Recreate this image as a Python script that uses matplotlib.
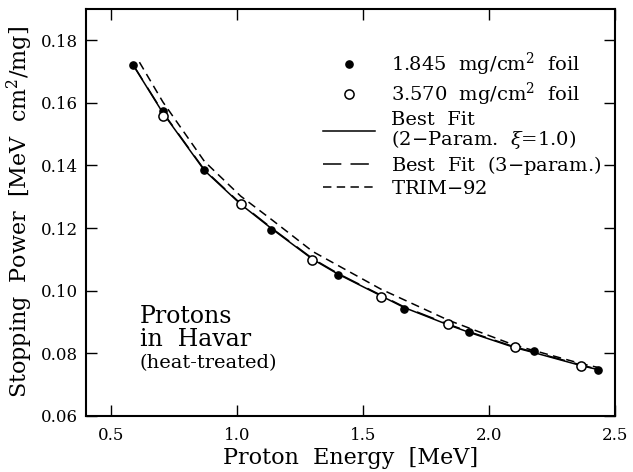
import matplotlib
matplotlib.use("Agg")
import matplotlib.pyplot as plt
from matplotlib.lines import Line2D

plt.rcParams['font.family'] = ['DejaVu Serif']
plt.rcParams['mathtext.fontset'] = 'dejavuserif'

# Data
e_thin = [0.586, 0.705, 0.867, 1.136, 1.400, 1.663, 1.920, 2.178, 2.431]
s_thin = [0.1722, 0.1575, 0.1384, 0.1194, 0.1051, 0.0940, 0.0867, 0.0806, 0.0746]

e_thick = [0.705, 1.014, 1.299, 1.572, 1.837, 2.102, 2.363]
s_thick = [0.1559, 0.1276, 0.1098, 0.0981, 0.0892, 0.0819, 0.0759]

e_fit2 = [0.586, 0.705, 0.870, 1.014, 1.140, 1.300, 1.400, 1.572, 1.663, 1.837, 1.920, 2.102, 2.178, 2.363, 2.431]
s_fit2 = [0.1722, 0.1568, 0.1384, 0.1276, 0.1196, 0.1100, 0.1053, 0.0983, 0.0946, 0.0891, 0.0867, 0.0818, 0.0802, 0.0761, 0.0748]

e_fit3 = [0.586, 0.705, 0.870, 1.014, 1.140, 1.300, 1.400, 1.572, 1.663, 1.837, 1.920, 2.102, 2.178, 2.363, 2.431]
s_fit3 = [0.1723, 0.1570, 0.1386, 0.1278, 0.1198, 0.1102, 0.1055, 0.0985, 0.0948, 0.0893, 0.0869, 0.0820, 0.0804, 0.0763, 0.0749]

e_trim = [0.612, 0.705, 0.870, 1.014, 1.140, 1.300, 1.570, 1.840, 2.100, 2.360, 2.430]
s_trim = [0.1730, 0.1603, 0.1413, 0.1302, 0.1225, 0.1125, 0.1005, 0.0905, 0.0826, 0.0768, 0.0755]

xticks = [0.5, 1.0, 1.5, 2.0, 2.5]
yticks = [0.06, 0.08, 0.10, 0.12, 0.14, 0.16, 0.18]

fig = plt.figure(figsize=(6.33, 4.72), dpi=100)
ax = fig.add_axes([0.1359, 0.119, 0.8357, 0.862])

LONG = (0, (12, 6))
SHORT = (0, (5.5, 3.5))

ax.plot(e_fit2, s_fit2, color='black', lw=1.1, ls='-')
ax.plot(e_fit3, s_fit3, color='black', lw=1.1, ls=LONG)
ax.plot(e_trim, s_trim, color='black', lw=1.1, ls=SHORT)
ax.plot(e_thin, s_thin, 'o', color='black', ms=5.2, zorder=5)
ax.plot(e_thick, s_thick, 'o', mfc='white', mec='black', mew=1.1, ms=6.6, zorder=6)

ax.set_xlim(0.4, 2.5)
ax.set_ylim(0.06, 0.19)
ax.set_xticks(xticks)
ax.set_xticklabels([f"{v:.1f}" for v in xticks])
ax.set_yticks(yticks)
ax.set_yticklabels([f"{v:.2f}" for v in yticks])
ax.tick_params(direction='in', length=8, width=1.0, top=True, right=True,
               labelsize=12)
ax.tick_params(axis='x', pad=8)
ax.tick_params(axis='y', pad=6)
for sp in ax.spines.values():
    sp.set_linewidth(1.5)

ax.set_xlabel("Proton  Energy  [MeV]", fontsize=16, labelpad=2)
ax.set_ylabel("Stopping  Power  [MeV  cm$^2$/mg]", fontsize=16, labelpad=4)

handles = [
    Line2D([], [], ls='none', marker='o', color='black', ms=5.2),
    Line2D([], [], ls='none', marker='o', mfc='white', mec='black', mew=1.1, ms=6.6),
    Line2D([], [], color='black', lw=1.1, ls='-'),
    Line2D([], [], color='black', lw=1.1, ls=LONG),
    Line2D([], [], color='black', lw=1.1, ls=SHORT),
]
labels = [
    "1.845  mg/cm$^2$  foil",
    "3.570  mg/cm$^2$  foil",
    "Best  Fit\n(2$-$Param.  $\\xi$=1.0)",
    "Best  Fit  (3$-$param.)",
    "TRIM$-$92",
]
leg = ax.legend(handles, labels, loc='upper right', bbox_to_anchor=(0.988, 0.916),
                frameon=False, fontsize=14, handlelength=2.7, handletextpad=0.8,
                labelspacing=0.15, borderaxespad=0.0)
for t in leg.get_texts():
    t.set_linespacing(0.95)

ax.text(0.102, 0.228, "Protons", transform=ax.transAxes, fontsize=17,
        va='baseline', ha='left')
ax.text(0.102, 0.172, "in  Havar", transform=ax.transAxes, fontsize=17,
        va='baseline', ha='left')
ax.text(0.102, 0.118, "(heat-treated)", transform=ax.transAxes, fontsize=14,
        va='baseline', ha='left')

fig.savefig("out.png", dpi=100)
